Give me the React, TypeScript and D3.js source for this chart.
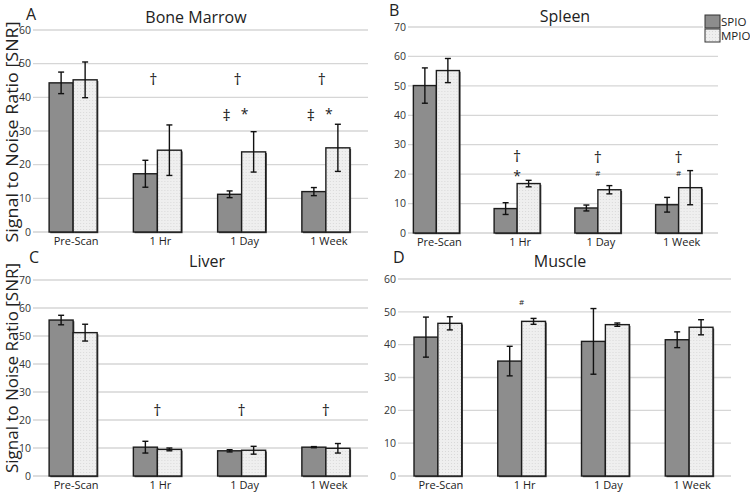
import React from "react";
import * as d3 from "d3";

const categories = ["Pre-Scan", "1 Hr", "1 Day", "1 Week"];
const series = ["SPIO", "MPIO"];

// Bone Marrow
const boneSPIO = [44.3, 17.3, 11.2, 12.0];
const boneSPIOErr = [3.2, 4.0, 1.0, 1.2];
const boneMPIO = [45.2, 24.3, 23.8, 25.0];
const boneMPIOErr = [5.3, 7.5, 6.0, 7.0];
// Spleen
const spleenSPIO = [50.1, 8.3, 8.5, 9.6];
const spleenSPIOErr = [6.0, 2.0, 1.0, 2.5];
const spleenMPIO = [55.2, 16.8, 14.7, 15.4];
const spleenMPIOErr = [4.1, 1.1, 1.4, 5.8];
// Liver
const liverSPIO = [55.7, 10.3, 9.0, 10.3];
const liverSPIOErr = [1.7, 2.1, 0.4, 0.2];
const liverMPIO = [51.2, 9.5, 9.2, 9.9];
const liverMPIOErr = [3.0, 0.5, 1.4, 1.7];
// Muscle
const muscleSPIO = [42.3, 35.0, 41.0, 41.5];
const muscleSPIOErr = [6.1, 4.5, 10.0, 2.4];
const muscleMPIO = [46.5, 47.1, 46.1, 45.3];
const muscleMPIOErr = [2.0, 0.9, 0.5, 2.3];

const boneTicks = [0, 10, 20, 30, 40, 50, 60];
const spleenTicks = [0, 10, 20, 30, 40, 50, 60, 70];
const liverTicks = [0, 10, 20, 30, 40, 50, 60, 70];
const muscleTicks = [0, 10, 20, 30, 40, 50, 60];

const boneMarks = [
  { cat: "1 Hr", value: 45.4, symbol: "†" },
  { cat: "1 Day", value: 45.4, symbol: "†" },
  { cat: "1 Week", value: 45.4, symbol: "†" },
  { cat: "1 Day", value: 34.5, symbol: "‡" },
  { cat: "1 Day", value: 34.9, symbol: "*" },
  { cat: "1 Week", value: 34.5, symbol: "‡" },
  { cat: "1 Week", value: 34.9, symbol: "*" },
];
const spleenMarks = [
  { cat: "1 Hr", value: 26.0, symbol: "†" },
  { cat: "1 Hr", value: 19.4, symbol: "*" },
  { cat: "1 Day", value: 25.8, symbol: "†" },
  { cat: "1 Day", value: 20.4, symbol: "#" },
  { cat: "1 Week", value: 25.8, symbol: "†" },
  { cat: "1 Week", value: 20.4, symbol: "#" },
];
const liverMarks = [
  { cat: "1 Hr", value: 23.6, symbol: "†" },
  { cat: "1 Day", value: 23.6, symbol: "†" },
  { cat: "1 Week", value: 23.6, symbol: "†" },
];
const muscleMarks = [{ cat: "1 Hr", value: 53, symbol: "#" }];

const FONT = "'Open Sans', 'Noto Sans', sans-serif";

type PanelCfg = {
  letter: string;
  title: string;
  max: number;
  ticks: number[];
  spio: number[];
  spioErr: number[];
  mpio: number[];
  mpioErr: number[];
  marks: { cat: string; value: number; symbol: string }[];
  yTop: number;
  y0: number;
  gridL: number;
  gridR: number;
  band: [number, number];
  titleX: number;
  titleY: number;
  letterX: number;
  letterY: number;
  markDx: Record<string, number>;
};

function Panel({ c }: { c: PanelCfg }) {
  const y = d3.scaleLinear().domain([0, c.max]).range([c.y0, c.yTop]);
  const x = d3
    .scaleBand<string>()
    .domain(categories)
    .range(c.band)
    .paddingInner(0.43)
    .paddingOuter(0.215);
  const xs = d3.scaleBand<string>().domain(series).range([0, x.bandwidth()]);
  const rows = categories.map((cat, i) => ({
    cat,
    vals: [
      { s: "SPIO", v: c.spio[i], e: c.spioErr[i] },
      { s: "MPIO", v: c.mpio[i], e: c.mpioErr[i] },
    ],
  }));
  return (
    <g>
      <text x={c.letterX} y={c.letterY} fontFamily={FONT} fontSize={16} fill="#222">
        {c.letter}
      </text>
      <text x={c.titleX} y={c.titleY} fontFamily={FONT} fontSize={16} fill="#222" textAnchor="middle">
        {c.title}
      </text>
      {c.ticks.map((t) => (
        <g key={t}>
          {t > 0 && (
            <line x1={c.gridL} x2={c.gridR} y1={y(t)} y2={y(t)} stroke="#d6d6d6" strokeWidth={1.3} />
          )}
          <text
            x={c.gridL - 2}
            y={y(t)}
            dy="0.35em"
            textAnchor="end"
            fontFamily={FONT}
            fontSize={10.5}
            fill="#333"
          >
            {t}
          </text>
        </g>
      ))}
      <line x1={c.gridL} x2={c.gridR} y1={y(0)} y2={y(0)} stroke="#bbb" strokeWidth={1.2} />
      {rows.map((r) => (
        <g key={r.cat} transform={`translate(${x(r.cat)},0)`}>
          {r.vals.map((d) => {
            const bx = xs(d.s)!;
            const w = xs.bandwidth();
            const cx = bx + w / 2;
            return (
              <g key={d.s}>
                <rect
                  x={bx + 1.2}
                  y={y(d.v) + 1.2}
                  width={w}
                  height={y(0) - y(d.v)}
                  fill="#444"
                />
                <rect
                  x={bx}
                  y={y(d.v)}
                  width={w}
                  height={y(0) - y(d.v)}
                  fill={d.s === "SPIO" ? "#8d8d8d" : "url(#dots)"}
                  stroke="#1c1c1c"
                  strokeWidth={1.4}
                />
                <line x1={cx} x2={cx} y1={y(d.v + d.e)} y2={y(d.v - d.e)} stroke="#111" strokeWidth={1.4} />
                <line x1={cx - 3} x2={cx + 3} y1={y(d.v + d.e)} y2={y(d.v + d.e)} stroke="#111" strokeWidth={1.4} />
                <line x1={cx - 3} x2={cx + 3} y1={y(d.v - d.e)} y2={y(d.v - d.e)} stroke="#111" strokeWidth={1.4} />
              </g>
            );
          })}
        </g>
      ))}
      {categories.map((cat) => (
        <text
          key={cat}
          x={x(cat)! + x.bandwidth() / 2 + 3}
          y={y(0) + 13}
          textAnchor="middle"
          fontFamily={FONT}
          fontSize={11}
          fill="#222"
        >
          {cat}
        </text>
      ))}
      {c.marks.map((m, i) => (
        <text
          key={i}
          x={x(m.cat)! + x.bandwidth() / 2 + (c.markDx[m.symbol] ?? 0)}
          y={y(m.value)}
          dy="0.35em"
          textAnchor="middle"
          fontFamily={FONT}
          fontSize={m.symbol === "#" ? 8 : m.symbol === "*" ? 14 : 16}
          fill="#222"
        >
          {m.symbol}
        </text>
      ))}
    </g>
  );
}

const panels: PanelCfg[] = [
  {
    letter: "A", title: "Bone Marrow", max: 60, ticks: boneTicks,
    spio: boneSPIO, spioErr: boneSPIOErr, mpio: boneMPIO, mpioErr: boneMPIOErr, marks: boneMarks,
    yTop: 30, y0: 232, gridL: 33, gridR: 368, band: [31, 368],
    titleX: 196, titleY: 23, letterX: 26, letterY: 20,
    markDx: { "†": -4, "‡": -15, "*": 3 },
  },
  {
    letter: "B", title: "Spleen", max: 70, ticks: spleenTicks,
    spio: spleenSPIO, spioErr: spleenSPIOErr, mpio: spleenMPIO, mpioErr: spleenMPIOErr, marks: spleenMarks,
    yTop: 27, y0: 233, gridL: 408, gridR: 718, band: [396, 719],
    titleX: 565, titleY: 22, letterX: 389, letterY: 16,
    markDx: {},
  },
  {
    letter: "C", title: "Liver", max: 70, ticks: liverTicks,
    spio: liverSPIO, spioErr: liverSPIOErr, mpio: liverMPIO, mpioErr: liverMPIOErr, marks: liverMarks,
    yTop: 280, y0: 476, gridL: 33, gridR: 368, band: [31, 368],
    titleX: 207, titleY: 267, letterX: 29, letterY: 263,
    markDx: {},
  },
  {
    letter: "D", title: "Muscle", max: 60, ticks: muscleTicks,
    spio: muscleSPIO, spioErr: muscleSPIOErr, mpio: muscleMPIO, mpioErr: muscleMPIOErr, marks: muscleMarks,
    yTop: 279, y0: 476, gridL: 398, gridR: 731, band: [396, 731],
    titleX: 560, titleY: 267, letterX: 393, letterY: 263,
    markDx: {},
  },
];

export default function App() {
  return (
    <svg
      width={750}
      height={492}
      style={{ position: "absolute", left: 0, top: 0, background: "#fff" }}
    >
      <defs>
        <pattern id="dots" width={3} height={3} patternUnits="userSpaceOnUse">
          <rect width={3} height={3} fill="#efefef" />
          <rect x={1} y={1} width={1} height={1} fill="#d9d9d9" />
        </pattern>
      </defs>
      <rect width={750} height={492} fill="#fff" />
      {panels.map((p) => (
        <Panel key={p.letter} c={p} />
      ))}
      <text
        transform="translate(18,132) rotate(-90)"
        textAnchor="middle"
        fontFamily={FONT}
        fontSize={17}
        fill="#222"
        textLength={221}
        lengthAdjust="spacingAndGlyphs"
      >
        Signal to Noise Ratio [SNR]
      </text>
      <text
        transform="translate(18,368) rotate(-90)"
        textAnchor="middle"
        fontFamily={FONT}
        fontSize={17}
        fill="#222"
        textLength={210}
        lengthAdjust="spacingAndGlyphs"
      >
        Signal to Noise Ratio [SNR]
      </text>
      {/* legend */}
      <rect x={703} y={8} width={47} height={40} fill="#fff" />
      {series.map((s, i) => (
        <g key={s}>
          <rect
            x={705}
            y={15 + i * 14}
            width={15}
            height={13}
            fill={s === "SPIO" ? "#8d8d8d" : "url(#dots)"}
            stroke="#333"
            strokeWidth={1}
          />
          <text x={721} y={26 + i * 14} fontFamily={FONT} fontSize={11.5} fill="#222">
            {s}
          </text>
        </g>
      ))}
    </svg>
  );
}
